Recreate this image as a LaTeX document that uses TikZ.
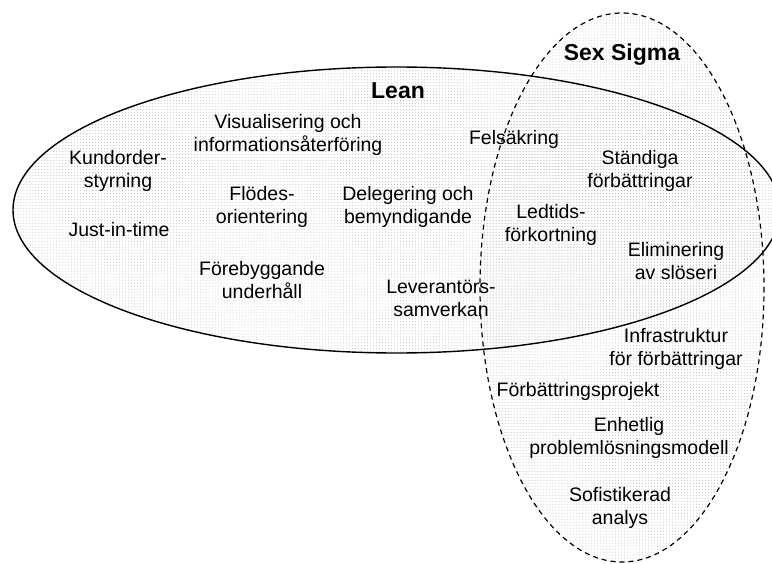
\documentclass[tikz,border=0pt]{standalone}
\usepackage{fontspec}
\setmainfont{Liberation Sans}
\usetikzlibrary{patterns}
\begin{document}
\begin{tikzpicture}[x=1bp,y=-1bp,
  dotfill/.style={pattern=dots,pattern color=gray!55},
  label/.style={align=center,inner sep=0pt,font=\fontsize{19.5bp}{23bp}\selectfont},
  title/.style={inner sep=0pt,font=\fontsize{23bp}{27bp}\selectfont\bfseries},
  leanline/.style={draw=black,line width=1.4bp},
  sigmaline/.style={draw=black,line width=1.2bp,dash pattern=on 5bp off 4bp}]
\useasboundingbox (0,0) rectangle (772,564);
% dotted fills of the two areas
\fill[dotfill] (396.5,210) ellipse [x radius=383.5,y radius=143];
\fill[dotfill] (622,287.5) ellipse [x radius=142,y radius=274.5];
% outlines
\path[sigmaline] (622,287.5) ellipse [x radius=142,y radius=274.5];
\path[leanline] (396.5,210) ellipse [x radius=383.5,y radius=143];
% titles
\node[title] (lean) at (398,91) {Lean};
\node[title] (sigma) at (622,55) {Sex Sigma};
% Lean practices
\node[label] (visual) at (288,135) {Visualisering och\\informationsåterföring};
\node[label] (kund) at (118,171) {Kundorder-\\styrning};
\node[label] (jit) at (119,230) {Just-in-time};
\node[label] (flode) at (262,207) {Flödes-\\orientering};
\node[label] (deleg) at (408,207) {Delegering och\\bemyndigande};
\node[label] (fore) at (262,280) {Förebyggande\\underhåll};
\node[label] (lev) at (441,298) {Leverantörs-\\samverkan};
% shared practices
\node[label] (fel) at (514,139) {Felsäkring};
\node[label] (stand) at (640,171) {Ständiga\\förbättringar};
\node[label] (led) at (551,225) {Ledtids-\\förkortning};
\node[label] (elim) at (676,261) {Eliminering\\av slöseri};
% Sex Sigma practices
\node[label] (infra) at (676,349) {Infrastruktur\\för förbättringar};
\node[label] (proj) at (578,391) {Förbättringsprojekt};
\node[label] (enh) at (629,438) {Enhetlig\\problemlösningsmodell};
\node[label] (sofi) at (620,508) {Sofistikerad\\analys};
\end{tikzpicture}
\end{document}
